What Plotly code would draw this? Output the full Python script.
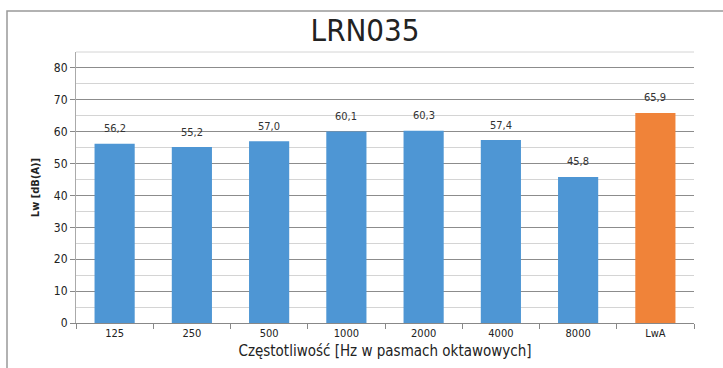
import plotly.graph_objects as go

categories = ["125", "250", "500", "1000", "2000", "4000", "8000", "LwA"]
values = [56.2, 55.2, 57.0, 60.1, 60.3, 57.4, 45.8, 65.9]
labels = ["56,2", "55,2", "57,0", "60,1", "60,3", "57,4", "45,8", "65,9"]
bar_colors = ["#4E96D4"] * 7 + ["#F08339"]

FONT = "Liberation Sans Narrow, DejaVu Sans Condensed, Liberation Sans, sans-serif"

fig = go.Figure()
fig.add_trace(go.Bar(
    x=categories, y=values, marker_color=bar_colors, marker_line_width=0,
))

# category axis positions are indices 0..n-1
for i, (v, t) in enumerate(zip(values, labels)):
    fig.add_annotation(x=i, y=v, text=t, showarrow=False, yanchor="middle", yshift=15,
                       font=dict(family=FONT, size=11, color="#333333"))

fig.update_layout(
    width=723, height=368,
    margin=dict(l=76, r=29, t=52, b=45, autoexpand=False),
    paper_bgcolor="white", plot_bgcolor="white",
    bargap=0.48,
    showlegend=False,
    title=dict(text="LRN035", x=0.505, xanchor="center", y=0.918, yanchor="middle",
               font=dict(family=FONT, size=31, color="#222222")),
    font=dict(family=FONT, color="#222222"),
    xaxis=dict(
        type="category",
        automargin=False,
        title=dict(text="Częstotliwość [Hz w pasmach oktawowych]", standoff=6,
                   font=dict(family=FONT, size=15, color="#222222")),
        tickfont=dict(family=FONT, size=11, color="#222222"),
        showline=True, linecolor="#888888", linewidth=1,
        ticks="outside", tickson="boundaries", ticklen=5, tickcolor="#888888",
        showgrid=False,
    ),
    yaxis=dict(
        automargin=False,
        title=dict(text="<b>Lw [dB(A)]</b>", standoff=12,
                   font=dict(family=FONT, size=11, color="#222222")),
        range=[0, 85], tickvals=[0, 10, 20, 30, 40, 50, 60, 70, 80],
        tickfont=dict(family=FONT, size=12, color="#222222"),
        ticksuffix=" ",
        showgrid=True, gridcolor="#8c8c8c", gridwidth=1,
        minor=dict(dtick=5, showgrid=True, gridcolor="#d4d4d4", gridwidth=1, ticks=""),
        showline=True, linecolor="#aaaaaa", linewidth=1,
        ticks="outside", ticklen=5, tickcolor="#888888",
        zeroline=False,
    ),
    shapes=[
        dict(type="rect", xref="paper", yref="paper",
             x0=(7 - 76) / 618, x1=1.2, y0=-0.3, y1=(323 - 11) / 271,
             line=dict(color="#999999", width=1.5), fillcolor="rgba(0,0,0,0)", layer="below"),
        dict(type="line", xref="paper", yref="paper", x0=0, x1=1, y0=1, y1=1,
             line=dict(color="#d4d4d4", width=1)),
    ],
)

fig.write_html("out.html", config={"displayModeBar": False},
               post_script="document.body.style.margin='0';document.body.style.overflow='hidden';")
